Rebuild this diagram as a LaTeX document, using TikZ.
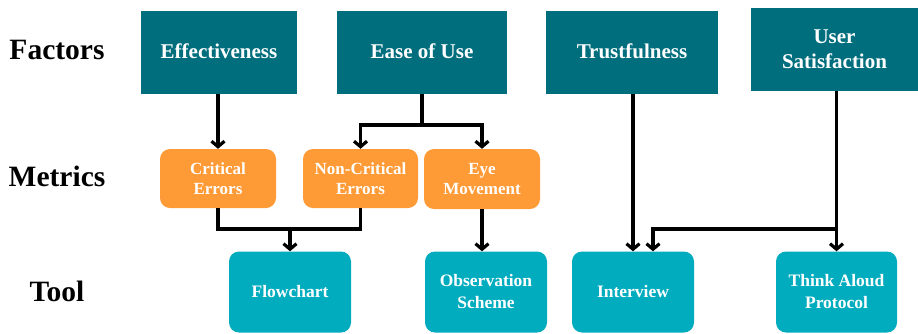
\documentclass[tikz,border=0pt]{standalone}
\usepackage{fontspec}
\setmainfont{Liberation Serif}
\usetikzlibrary{arrows.meta,positioning,calc}
\definecolor{darkteal}{RGB}{0,110,125}
\definecolor{lightteal}{RGB}{0,172,190}
\definecolor{orng}{RGB}{255,155,55}
\tikzset{
  factorbox/.style={fill=darkteal, text=white, font=\bfseries\fontsize{21}{25}\selectfont, align=center, inner sep=0pt, minimum height=83pt},
  metricbox/.style={fill=orng, text=white, font=\bfseries\fontsize{17}{20}\selectfont, align=center, inner sep=0pt, rounded corners=10pt, minimum width=116pt, minimum height=59pt},
  toolbox/.style={fill=lightteal, text=white, font=\bfseries\fontsize{17.5}{22}\selectfont, align=center, inner sep=0pt, rounded corners=10pt, minimum width=122pt, minimum height=81pt},
  rowlabel/.style={font=\bfseries\fontsize{29.5}{33}\selectfont, text=black, inner sep=0pt},
  conn/.style={line width=3.2pt, draw=black, line join=miter},
  arr/.style={conn, -{Straight Barb[length=5.5pt,width=13pt]}}
}
\begin{document}
\begin{tikzpicture}[x=1pt,y=-1pt]
\useasboundingbox (0,0) rectangle (918,333);
% row labels
\node[rowlabel] (lf) at (57,50) {Factors};
\node[rowlabel] (lm) at (57,176) {Metrics};
\node[rowlabel] (lt) at (57,291) {Tool};
% factors
\node[factorbox, minimum width=156pt] (eff) at (219,52.5) {\raisebox{2pt}{Effectiveness}};
\node[factorbox, minimum width=170pt] (ease) at (422,52.5) {\raisebox{2pt}{Ease of Use}};
\node[factorbox, minimum width=172pt] (trust) at (632,52.5) {\raisebox{2pt}{Trustfulness}};
\node[factorbox, minimum width=167pt] (us) at (834.5,49.5) {User\\Satisfaction};
% metrics
\node[metricbox] (crit) at (218,178.5) {Critical\\Errors};
\node[metricbox, minimum width=115pt] (noncrit) at (360.5,178.5) {Non-Critical\\Errors};
\node[metricbox, minimum height=60pt] (eye) at (482,179) {Eye\\Movement};
% tools
\node[toolbox] (flow) at (290,292) {Flowchart};
\node[toolbox] (obs) at (486,292) {Observation\\Scheme};
\node[toolbox] (inter) at (633,292) {Interview};
\node[toolbox, minimum width=121pt] (think) at (836.5,292) {Think Aloud\\Protocol};
% junctions
\coordinate (ej) at (422,125);
\coordinate (cj) at (290,229);
\coordinate (uj) at (837,229);
% connectors
\draw[arr] (eff.south -| crit.north) -- (crit.north);
\draw[conn] (ease.south) -- (ej);
\draw[arr] (ej) -| (noncrit.north);
\draw[arr] (ej) -| (eye.north);
\draw[conn] (crit.south) -- (crit.south |- cj) -- (noncrit.south |- cj) -- (noncrit.south);
\draw[arr] (cj) -- (flow.north);
\draw[arr] (eye.south) -- (eye.south |- obs.north);
\draw[arr] (inter.north |- trust.south) -- (inter.north);
\draw[arr] (think.north |- us.south) -- (think.north);
\draw[arr] (uj) -| ([xshift=20pt]inter.north);
\end{tikzpicture}
\end{document}
